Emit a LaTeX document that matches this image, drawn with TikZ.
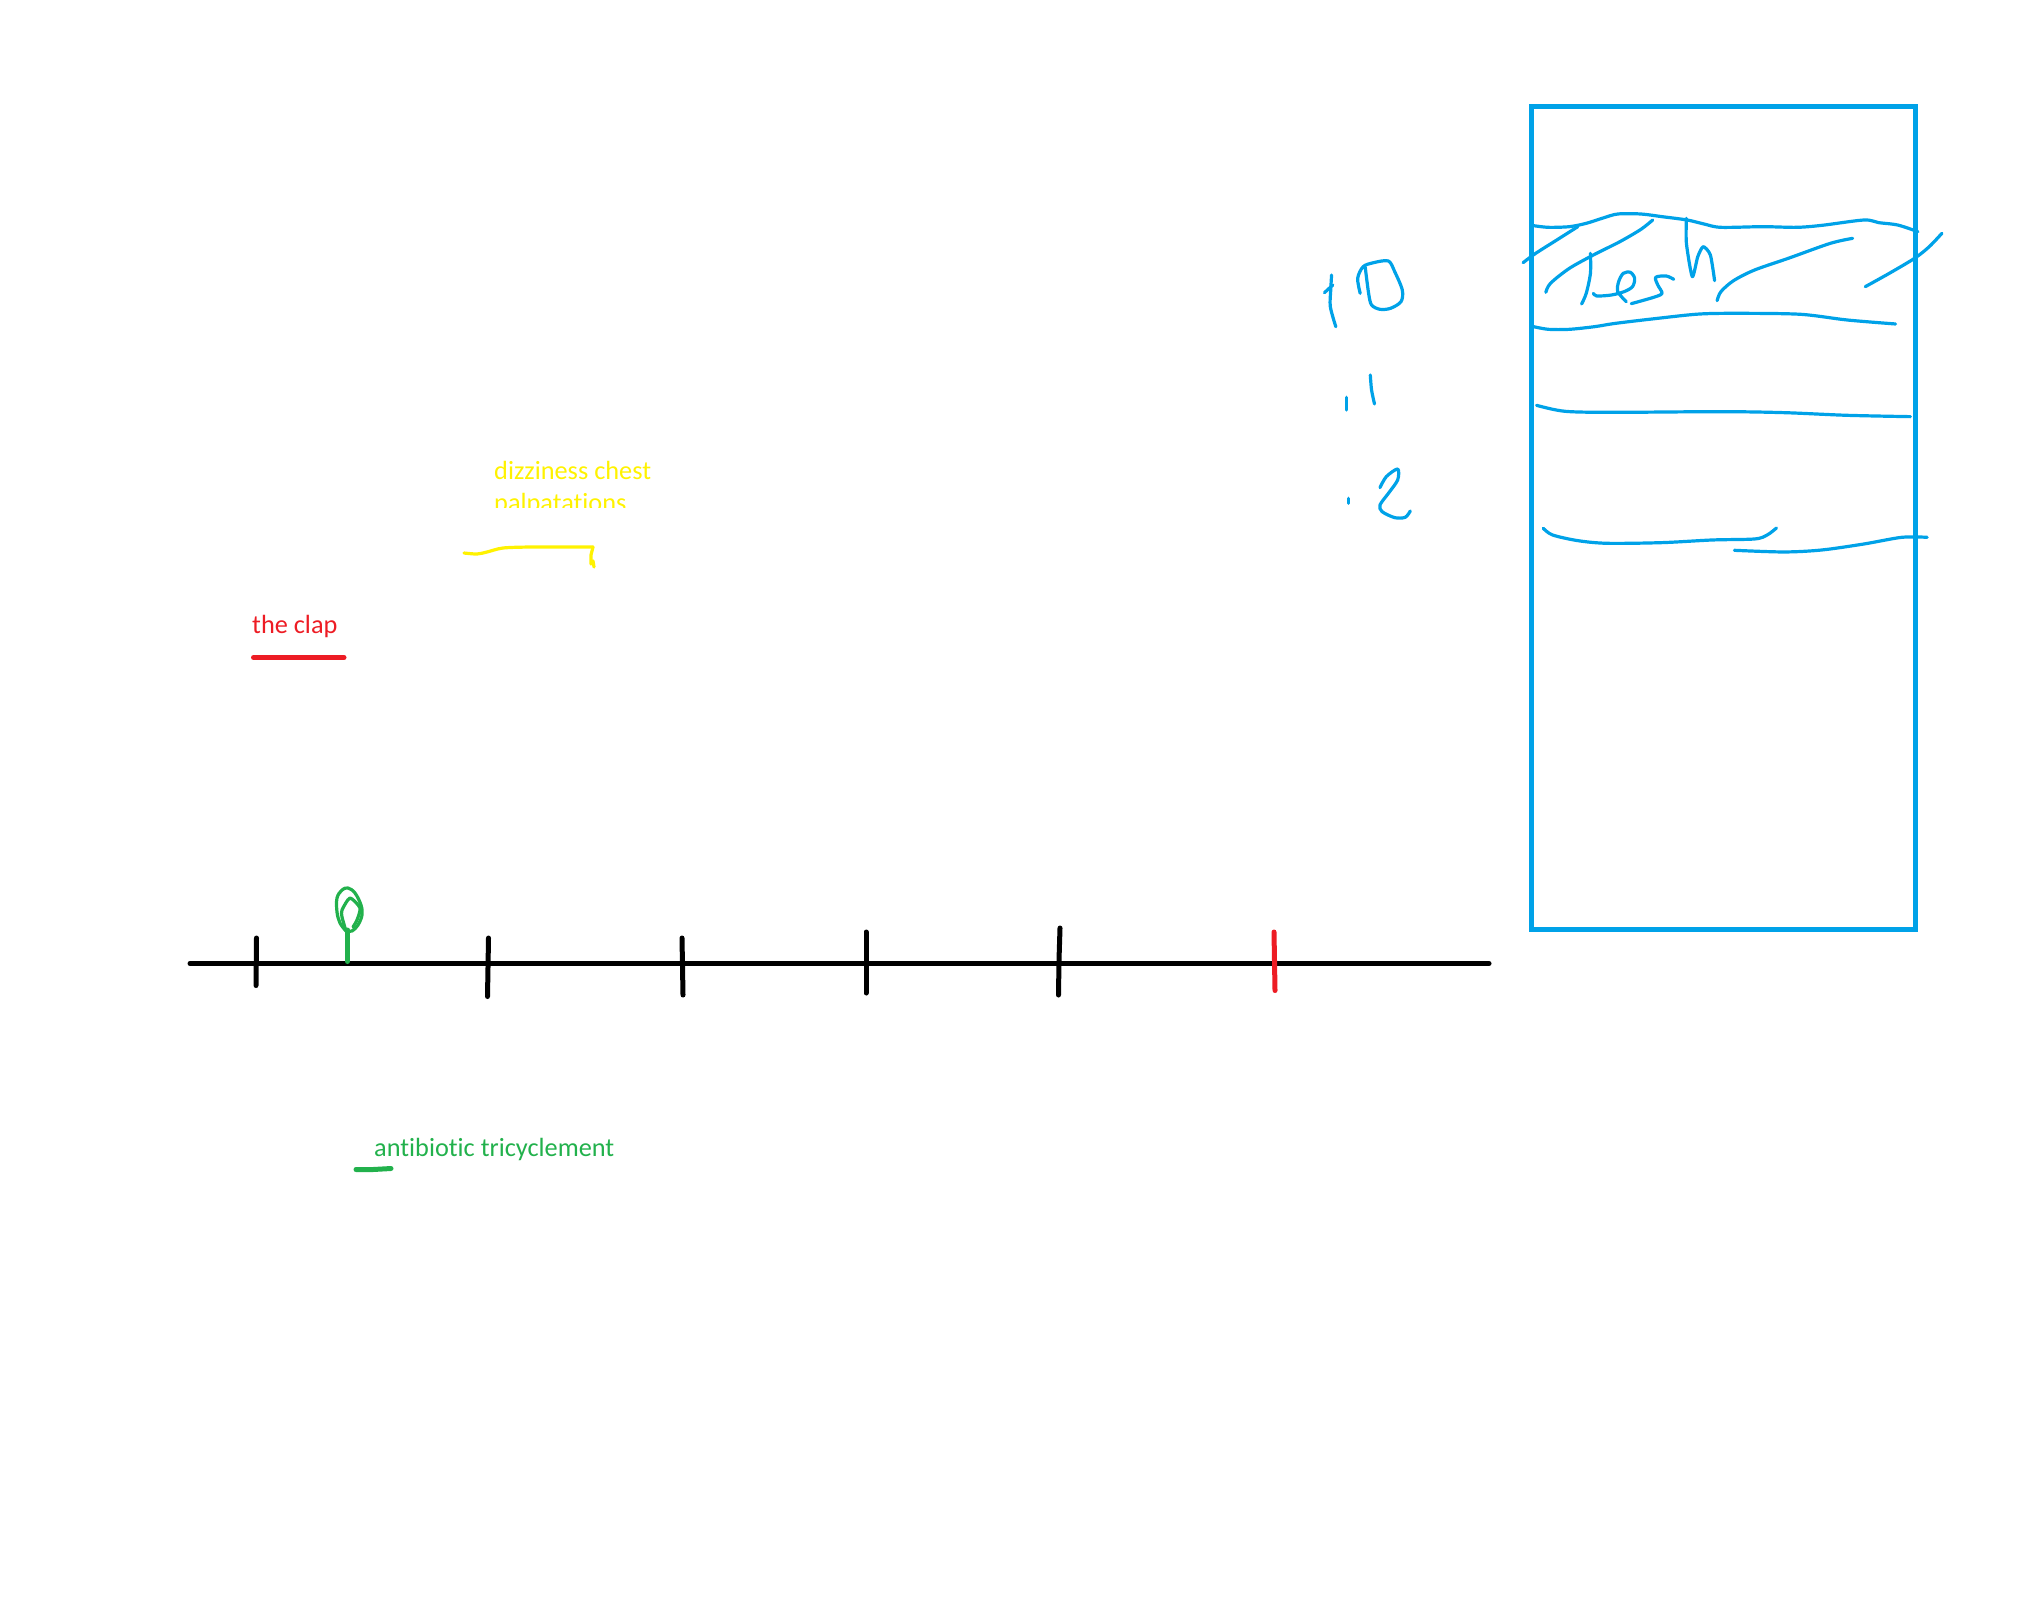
\documentclass[tikz,border=0pt]{standalone}
\usepackage{fontspec}
\setmainfont{Carlito}[Ligatures=NoCommon]
\usepackage{tikz}
\usetikzlibrary{positioning}
\definecolor{PenBlue}{HTML}{00A2E8}
\definecolor{PenRed}{HTML}{ED1C24}
\definecolor{PenGreen}{HTML}{22B14C}
\definecolor{PenYellow}{HTML}{FFF200}

\begin{document}
\begin{tikzpicture}[
  x=1pt, y=-1pt,
  tick/.style={line width=5pt, line cap=round, black},
  sketch/.style={line width=3.2pt, line cap=round, line join=round},
  bluepen/.style={sketch, PenBlue},
  greenpen/.style={sketch, PenGreen},
  label/.style={font=\fontsize{26.3}{31}\selectfont, inner sep=0pt, anchor=base west},
  boardscale/.style={x=0.4209pt, y=-0.3333pt, shift={(1300pt,-190pt)}}
]
\useasboundingbox (0,0) rectangle (2044,1596);

% Labels
\node[label, PenRed] (clap) at (252,633.5) {the clap};
\node[label, PenGreen] (antibiotic) at (374,1156.5) {antibiotic tricyclement};
\begin{scope}
  \clip (480,450) rectangle (680,507.5);
  \node[label, PenYellow] (dizziness) at (494,479.5) {dizziness chest};
  \node[label, PenYellow] (palpitations) at (494,511) {palpatations};
\end{scope}

% Timeline
\draw[tick] (190,963.5) -- (1489,963.5);
\draw[tick] (256.5,938) -- (256,985.5);
\draw[tick] (488.5,938) -- (487.5,996.5);
\draw[tick] (682,938) -- (683,995);
\draw[tick] (866,932) -- (866,993);
\draw[tick] (1060,928) -- (1059,960) -- (1058.5,995);
\draw[tick, PenRed] (1274,932) -- (1275,990.5);

% Underlines
\draw[line width=5pt, line cap=round, PenRed] (253.5,657.5) -- (344,657.5);
\draw[line width=5pt, line cap=round, PenGreen] (356,1169.5) -- (373,1169.5) -- (391,1168.5);
\draw[sketch, PenYellow] plot[smooth, tension=0.5] coordinates {(464,553) (477,554) (487,552) (503,548) (530,547) (558,547) (593,547)};
\draw[sketch, PenYellow] (593,547) -- (591,555) -- (591,564) -- (593,561) -- (594,567);

% Green mark on the timeline
\draw[line width=5pt, line cap=round, PenGreen] (347.5,961.5) -- (347.5,930);
\draw[greenpen] plot[smooth, tension=0.6] coordinates {(346,931) (340,923) (337,912) (337,898) (342,890) (348,888) (355,893) (361,905) (362,915) (358,925) (352,931) (346,931)};
\draw[greenpen] plot[smooth, tension=0.4] coordinates {(346,931) (342,917) (342,910) (350,898) (360,908) (357,920) (353,927)};

% Board
\draw[line width=5pt, PenBlue] (1531.5,106.5) rectangle (1915.5,929.5);
\begin{scope}[boardscale]
  \draw[bluepen] plot[smooth, tension=0.5] coordinates {(555,107) (590,112) (640,110) (680,100) (720,84) (755,72) (810,72) (860,80) (920,90) (960,102) (1000,112) (1100,110) (1180,112) (1240,106) (1340,90) (1375,98) (1420,105) (1468,125)};
  \draw[bluepen] plot[smooth, tension=0.5] coordinates {(530,218) (560,190) (610,150) (660,110)};
  \draw[bluepen] plot[smooth, tension=0.5] coordinates {(584,307) (595,280) (640,235) (700,193) (760,155) (810,118) (838,90)};
  \draw[bluepen] plot[smooth, tension=0.5] coordinates {(690,190) (690,250) (680,310) (669,342)};
  \draw[bluepen] plot[smooth, tension=0.5] coordinates {(697,310) (705,318) (740,315) (770,305) (790,290) (795,265) (785,247) (768,250) (757,275) (755,305) (775,335)};
  \draw[bluepen] plot[smooth, tension=0.5] coordinates {(888,268) (870,258) (845,262) (850,285) (860,310) (840,322) (787,341)};
  \draw[bluepen] plot[smooth, tension=0.4] coordinates {(918,85) (918,160) (932,260) (945,200) (958,170) (975,195) (985,272)};
  \draw[bluepen] plot[smooth, tension=0.5] coordinates {(991,332) (1000,305) (1030,272) (1080,240) (1160,205) (1260,160) (1313,145)};
  \draw[bluepen] plot[smooth, tension=0.5] coordinates {(1343,290) (1400,250) (1460,205) (1495,170) (1525,130)};
  \draw[bluepen] plot[smooth, tension=0.5] coordinates {(555,410) (590,418) (640,418) (700,410) (750,400) (850,385) (950,372) (1050,370) (1190,373) (1300,390) (1415,402)};
  \draw[bluepen] plot[smooth, tension=0.5] coordinates {(562,646) (630,664) (750,667) (1000,665) (1150,668) (1300,676) (1450,680)};
  \draw[bluepen] plot[smooth, tension=0.5] coordinates {(578,1015) (600,1035) (660,1052) (730,1060) (860,1058) (980,1050) (1080,1047) (1110,1035) (1132,1014)};
  \draw[bluepen] plot[smooth, tension=0.5] coordinates {(1032,1081) (1150,1086) (1240,1080) (1340,1062) (1430,1042) (1490,1042)};

  % Scale numbers
  \draw[bluepen] plot[smooth, tension=0.5] coordinates {(75,255) (73,300) (72,350) (85,410)};
  \draw[bluepen] (58,308) -- (78,285);
  \draw[bluepen] plot[smooth, tension=0.5] coordinates {(143,310) (137,265) (150,230) (175,218) (210,213) (225,245) (243,300) (240,335) (215,355) (190,358) (170,345) (163,310) (155,232)};
  \draw[bluepen] (110,622) -- (110,660);
  \draw[bluepen] plot[smooth, tension=0.5] coordinates {(167,555) (170,600) (177,642)};
  \draw[bluepen] (115,925) -- (115,940);
  \draw[bluepen] plot[smooth, tension=0.5] coordinates {(190,893) (205,860) (232,837) (232,870) (210,910) (190,945) (195,965) (225,983) (250,982) (262,963)};
\end{scope}

\end{tikzpicture}
\end{document}
